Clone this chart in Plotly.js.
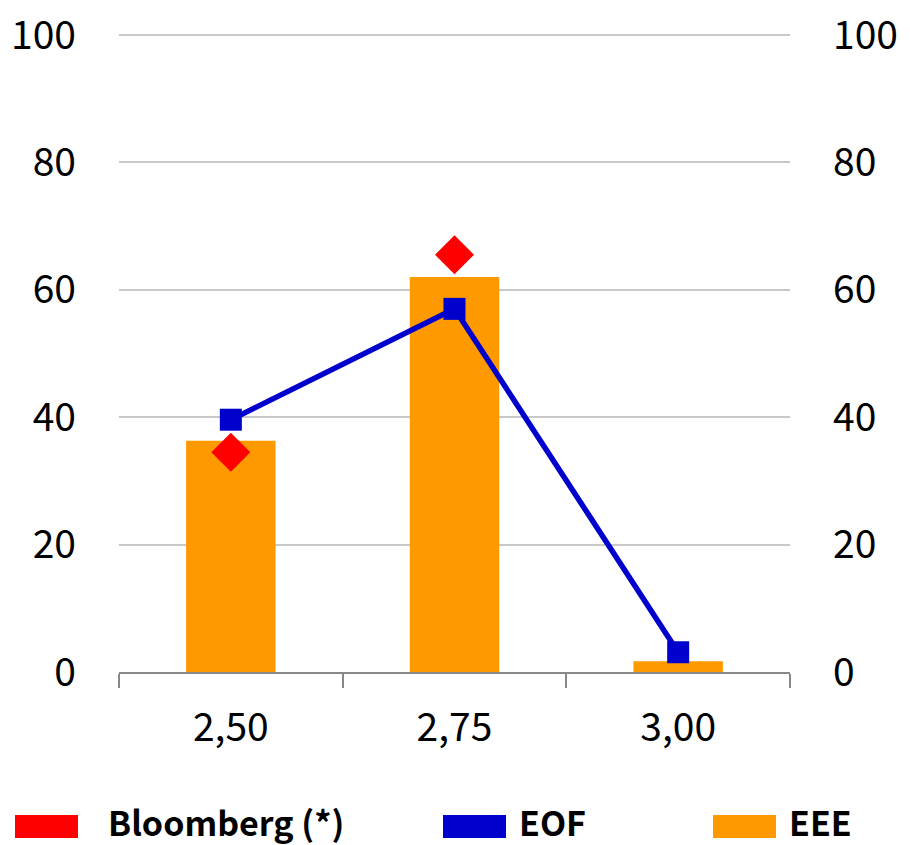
<!DOCTYPE html>
<html>
<head>
<meta charset="utf-8">
<script src="https://cdn.plot.ly/plotly-3.0.1.min.js"></script>
<style>html,body{margin:0;padding:0;background:#fff;}#chart{width:910px;height:845px;}</style>
</head>
<body>
<div id="chart"></div>
<script>
const categories = ["2,50", "2,75", "3,00"];
const eeeValues = [36.3, 62, 1.7];
const eofValues = [39.6, 57, 3.1];
const bloombergValues = [34.5, 65.5, null];
const yTicks = [0, 20, 40, 60, 80, 100];
const legendNames = ["Bloomberg (*)", "EOF", "EEE"];

const FONT = "'Noto Sans CJK KR', 'Noto Sans', sans-serif";
const RED = "#FF0000", BLUE = "#0000CC", ORANGE = "#FF9900";

const traces = [
  {type: "bar", x: categories, y: eeeValues, name: legendNames[2],
   marker: {color: ORANGE}, showlegend: false, hoverinfo: "skip"},
  {type: "scatter", mode: "lines+markers", x: categories, y: eofValues, name: legendNames[1],
   line: {color: BLUE, width: 5.5}, marker: {symbol: "square", size: 22, color: BLUE},
   showlegend: false},
  {type: "scatter", mode: "markers", x: categories, y: bloombergValues, name: legendNames[0],
   marker: {symbol: "diamond", size: 30, color: RED}, showlegend: false},
  {type: "scatter", mode: "markers", x: categories, y: [null, null, null], yaxis: "y2",
   showlegend: false, hoverinfo: "skip"}
];

// Custom legend built from legendNames (plot area: x 119..790, y 33..672)
const PL = 119, PW = 671, PB = 672, PH = 639;
const legendBoxX = [15, 443, 713];
const legendTextX = [106, 517, 787];
const legendColors = [RED, BLUE, ORANGE];
const shapes = [], annotations = [];
legendNames.forEach((n, i) => {
  shapes.push({type: "rect", xref: "paper", yref: "paper",
    x0: (legendBoxX[i] - PL) / PW, x1: (legendBoxX[i] + 63 - PL) / PW,
    y0: (PB - 838) / PH, y1: (PB - 815) / PH,
    fillcolor: legendColors[i], line: {width: 0}});
  annotations.push({xref: "paper", yref: "paper",
    x: (legendTextX[i] - PL) / PW, y: (PB - 821) / PH,
    xanchor: "left", yanchor: "middle", showarrow: false, text: "<b>" + n + "</b>",
    font: {family: FONT, size: 34, color: "#000"}});
});

const layout = {
  width: 910, height: 845,
  margin: {l: 119, r: 120, t: 33, b: 173},
  paper_bgcolor: "#fff", plot_bgcolor: "#fff",
  bargap: 0.6,
  showlegend: false,
  font: {family: FONT, size: 39, color: "#000"},
  xaxis: {
    type: "category", tickson: "boundaries", ticks: "outside", ticklen: 14,
    tickcolor: "#888", tickwidth: 2, showline: true, linecolor: "#888", linewidth: 2,
    showgrid: false, ticklabelstandoff: 20, tickfont: {family: FONT, size: 39}
  },
  yaxis: {
    range: [0, 100.3], tickvals: yTicks, showgrid: true, gridcolor: "#c8c8c8", gridwidth: 2,
    zeroline: false, showline: false, ticks: "", ticklabelstandoff: 42,
    tickfont: {family: FONT, size: 39}
  },
  yaxis2: {
    range: [0, 100.3], tickvals: yTicks, overlaying: "y", side: "right", showgrid: false,
    zeroline: false, showline: false, ticks: "", ticklabelstandoff: 42,
    tickfont: {family: FONT, size: 39}
  },
  shapes: shapes,
  annotations: annotations
};

Plotly.newPlot("chart", traces, layout, {displayModeBar: false, staticPlot: true});
</script>
</body>
</html>
